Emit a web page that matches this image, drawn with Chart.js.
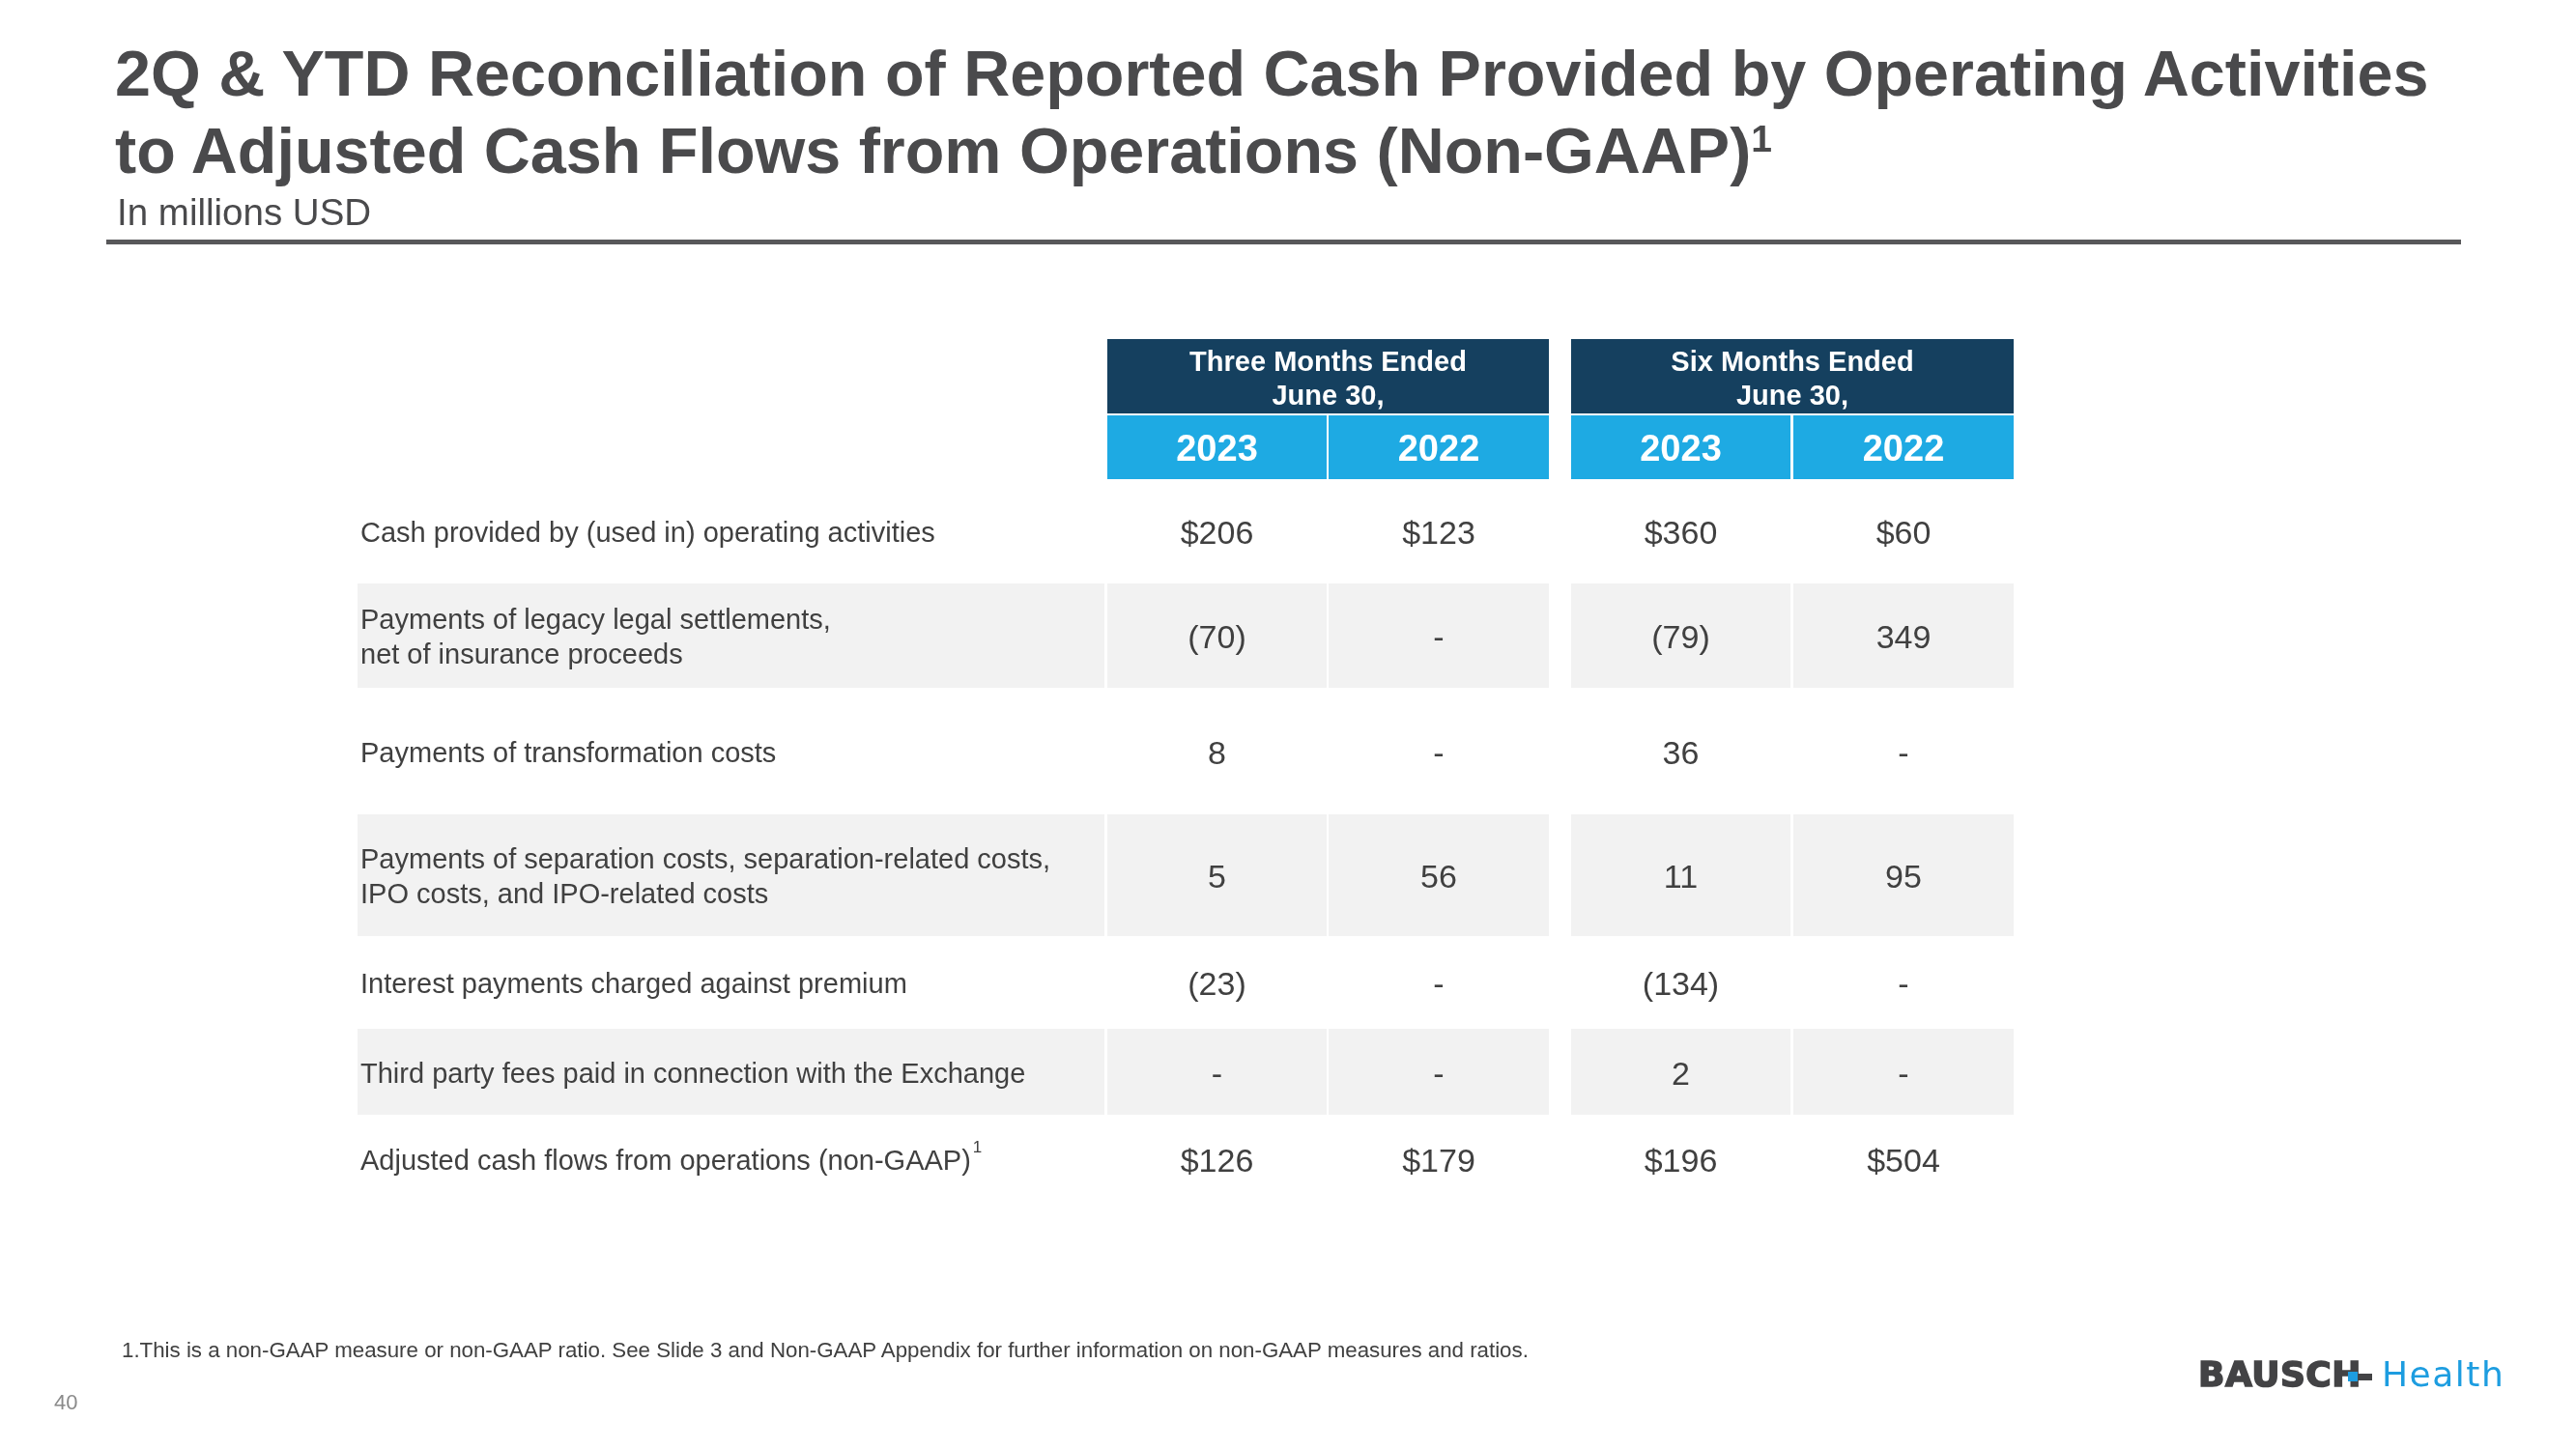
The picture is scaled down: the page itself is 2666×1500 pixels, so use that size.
<!DOCTYPE html>
<html>
<head>
<meta charset="utf-8">
<script src="https://cdn.jsdelivr.net/npm/chart.js@4"></script>
<style>
  html, body { margin:0; padding:0; background:#ffffff; }
  body { width:2666px; height:1500px; position:relative; overflow:hidden; font-family:"Liberation Sans", Arial, sans-serif; }
  #chart { position:absolute; left:0; top:0; }
  .abs { position:absolute; white-space:nowrap; }
  #title { left:119px; top:36px; font-size:66.5px; line-height:80px; font-weight:bold; color:#4a4a4c; }
  #title .sup { font-size:39px; vertical-align:22px; line-height:0; }
  #subtitle { left:121px; top:201px; font-size:38.5px; line-height:38.5px; color:#4a4a4c; }
  #rule { left:110px; top:248px; width:2437px; height:5px; background:#58585a; }
  #footnote { left:126px; top:1387px; font-size:22.3px; line-height:22px; color:#404040; }
  #page { left:56px; top:1441px; font-size:22px; line-height:22px; color:#8a8a8a; }
  #logoB { left:2275px; top:1405px; font-family:"DejaVu Sans"; font-weight:bold; font-size:36px; line-height:36px; color:#434345; -webkit-text-stroke:1.6px #434345; letter-spacing:0.5px; }
  #logoH { left:2465px; top:1405px; font-family:"DejaVu Sans"; font-size:36px; line-height:36px; color:#1d9de0; letter-spacing:1.5px; }
  #logoBar { left:2438px; top:1422px; width:17px; height:7px; background:#434345; }
  #logoSq { left:2430px; top:1420px; width:10px; height:10px; background:#1d9de0; }
</style>
</head>
<body>
<canvas id="chart" width="2666" height="1500"></canvas>
<div id="title" class="abs">2Q &amp; YTD Reconciliation of Reported Cash Provided by Operating Activities<br>to Adjusted Cash Flows from Operations (Non-GAAP)<span class="sup">1</span></div>
<div id="subtitle" class="abs">In millions USD</div>
<div id="rule" class="abs"></div>
<div id="footnote" class="abs">1.This is a non-GAAP measure or non-GAAP ratio. See Slide 3 and Non-GAAP Appendix for further information on non-GAAP measures and ratios.</div>
<div id="page" class="abs">40</div>
<div id="logoB" class="abs">BAUSCH</div>
<div id="logoBar" class="abs"></div>
<div id="logoSq" class="abs"></div>
<div id="logoH" class="abs">Health</div>
<script>
// ---------------- DATA ----------------
const rowLabels = [
  ['Cash provided by (used in) operating activities'],
  ['Payments of legacy legal settlements,', 'net of insurance proceeds'],
  ['Payments of transformation costs'],
  ['Payments of separation costs, separation-related costs,', 'IPO costs, and IPO-related costs'],
  ['Interest payments charged against premium'],
  ['Third party fees paid in connection with the Exchange'],
  ['Adjusted cash flows from operations (non-GAAP)']
];
const rowNotes = [null, null, null, null, null, null, '1'];
const dollarRows = [true, false, false, false, false, false, true];
const periodHeaders = [['Three Months Ended', 'June 30,'], ['Six Months Ended', 'June 30,']];
const years = ['2023', '2022'];
const threeMonths2023 = [206, -70, 8, 5, -23, null, 126];
const threeMonths2022 = [123, null, null, 56, null, null, 179];
const sixMonths2023 = [360, -79, 36, 11, -134, 2, 196];
const sixMonths2022 = [60, 349, null, 95, null, null, 504];

// ---------------- LAYOUT ----------------
const colSegments = [
  { key: 'label', w: 773 }, { gap: 3 },
  { key: 0, w: 227 }, { gap: 2 }, { key: 1, w: 228 }, { gap: 23 },
  { key: 2, w: 227 }, { gap: 3 }, { key: 3, w: 228 }
];
const headerSegments = { period: 77, gap: 2, year: 66 };
const bodyRowUnits = [108, 108, 131, 126, 96, 89, 92];

const COLORS = {
  period: '#15405f',
  year: '#1eaae3',
  band: '#f2f2f2',
  text: '#404040',
  headText: '#ffffff'
};
const FONT = '"Liberation Sans", Arial, sans-serif';

const columns = [threeMonths2023, threeMonths2022, sixMonths2023, sixMonths2022];

// cumulative edges
const colEdges = {};
let acc = 0;
colSegments.forEach(s => {
  if (s.gap !== undefined) { acc += s.gap; return; }
  colEdges[s.key] = [acc, acc + s.w];
  acc += s.w;
});
const totalX = acc;
const headEdges = {
  period: [0, headerSegments.period],
  year: [headerSegments.period + headerSegments.gap, headerSegments.period + headerSegments.gap + headerSegments.year]
};
const rowEdges = [];
let yAcc = headEdges.year[1];
bodyRowUnits.forEach(h => { rowEdges.push([yAcc, yAcc + h]); yAcc += h; });
const totalY = yAcc;

function fmt(v, dollar) {
  if (v === null || v === undefined) return '-';
  if (v < 0) return '(' + Math.abs(v) + ')';
  return (dollar ? '$' : '') + v;
}

const tablePlugin = {
  id: 'tablePlugin',
  afterDraw(chart) {
    const ctx = chart.ctx;
    const xs = chart.scales.x, ys = chart.scales.y;
    const X = v => xs.getPixelForValue(v);
    const Y = v => ys.getPixelForValue(v);
    const rect = (x0, x1, y0, y1, c) => {
      ctx.fillStyle = c;
      ctx.fillRect(X(x0), Y(y0), X(x1) - X(x0), Y(y1) - Y(y0));
    };
    const capText = (txt, x, yCenter, size, weight, color, align) => {
      ctx.font = (weight ? weight + ' ' : '') + size + 'px ' + FONT;
      ctx.fillStyle = color;
      ctx.textAlign = align;
      ctx.textBaseline = 'alphabetic';
      ctx.fillText(txt, x, yCenter + 0.358 * size);
      return ctx.measureText(txt).width;
    };
    ctx.save();
    // period headers
    periodHeaders.forEach((lines, g) => {
      const x0 = colEdges[g * 2][0], x1 = colEdges[g * 2 + 1][1];
      rect(x0, x1, headEdges.period[0], headEdges.period[1], COLORS.period);
      const cx = (X(x0) + X(x1)) / 2;
      const cy = (Y(headEdges.period[0]) + Y(headEdges.period[1])) / 2 + 2;
      const lh = 35;
      lines.forEach((ln, i) => {
        capText(ln, cx, cy + (i - (lines.length - 1) / 2) * lh, 29, 'bold', COLORS.headText, 'center');
      });
    });
    // year headers
    columns.forEach((col, c) => {
      const e = colEdges[c];
      rect(e[0], e[1], headEdges.year[0], headEdges.year[1], COLORS.year);
      const cx = (X(e[0]) + X(e[1])) / 2;
      const cy = (Y(headEdges.year[0]) + Y(headEdges.year[1])) / 2;
      capText(years[c % 2], cx, cy, 38, 'bold', COLORS.headText, 'center');
    });
    // body
    rowLabels.forEach((lines, r) => {
      const re = rowEdges[r];
      if (r % 2 === 1) {
        rect(colEdges.label[0], colEdges.label[1], re[0], re[1], COLORS.band);
        columns.forEach((col, c) => rect(colEdges[c][0], colEdges[c][1], re[0], re[1], COLORS.band));
      }
      const cy = (Y(re[0]) + Y(re[1])) / 2 + 1;
      const lx = X(colEdges.label[0]) + 3;
      const lh = 36;
      lines.forEach((ln, i) => {
        const yy = cy + (i - (lines.length - 1) / 2) * lh;
        const w = capText(ln, lx, yy, 29, '', COLORS.text, 'left');
        if (rowNotes[r] && i === lines.length - 1) {
          capText(rowNotes[r], lx + w + 2, yy - 14, 17, '', COLORS.text, 'left');
        }
      });
      columns.forEach((col, c) => {
        const e = colEdges[c];
        const cx = (X(e[0]) + X(e[1])) / 2;
        capText(fmt(col[r], dollarRows[r]), cx, cy, 34, '', COLORS.text, 'center');
      });
    });
    ctx.restore();
  }
};

new Chart(document.getElementById('chart'), {
  type: 'bar',
  data: {
    labels: rowLabels.map(l => l.join(' ')),
    datasets: []
  },
  options: {
    responsive: false,
    animation: false,
    events: [],
    layout: { padding: { left: 370, top: 351, right: 2666 - 370 - totalX, bottom: 1500 - 351 - totalY } },
    plugins: { legend: { display: false }, tooltip: { enabled: false }, title: { display: false } },
    scales: {
      x: { type: 'linear', display: false, offset: false, grace: 0, min: 0, max: totalX },
      y: { type: 'linear', display: false, offset: false, grace: 0, reverse: true, min: 0, max: totalY }
    }
  },
  plugins: [tablePlugin]
});
</script>
</body>
</html>
